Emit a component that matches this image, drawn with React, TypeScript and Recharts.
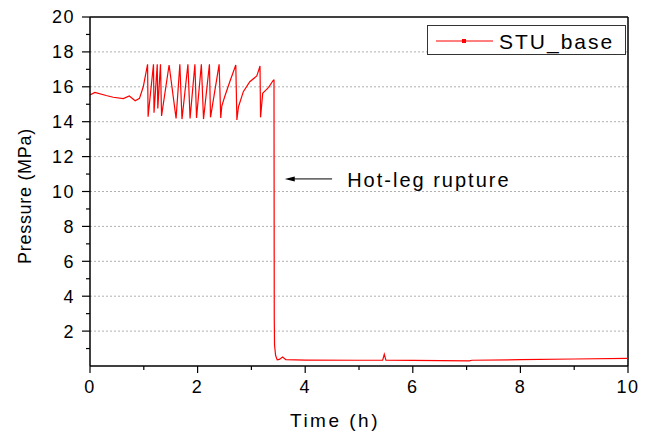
import React from 'react';
import { LineChart, Line, XAxis, YAxis, CartesianGrid, ReferenceLine, ReferenceDot } from 'recharts';

const seriesName = 'STU_base';
const timeH = [
  0, 0.09, 0.3, 0.43, 0.62, 0.73, 0.84, 0.92, 0.99, 1.07, 1.08, 1.18, 1.19, 1.25, 1.26, 1.31, 1.33,
  1.47, 1.6, 1.67, 1.71, 1.82, 1.86, 1.95, 1.98, 2.07, 2.11, 2.22, 2.24, 2.4, 2.43, 2.45, 2.5, 2.6,
  2.71, 2.73, 2.76, 2.85, 2.97, 3.1, 3.13, 3.16, 3.17, 3.21, 3.24, 3.32, 3.41, 3.42, 3.425, 3.43,
  3.45, 3.48, 3.52, 3.58, 3.64, 4.0, 5.0, 5.44, 5.47, 5.5, 6.0, 7.05, 7.1, 8.0, 9.0, 10.0,
];
const pressureMPa = [
  15.53, 15.68, 15.5, 15.4, 15.32, 15.47, 15.2, 15.34, 16.0, 17.29, 14.29, 17.29, 14.52, 17.29, 14.76, 17.29, 14.33,
  17.25, 14.19, 17.29, 14.15, 17.29, 14.19, 17.29, 14.22, 17.29, 14.15, 17.29, 14.25, 17.29, 14.22, 14.9, 15.4, 16.3,
  17.25, 14.1, 14.86, 15.72, 16.29, 16.62, 16.9, 17.19, 14.25, 15.63, 15.72, 15.97, 16.39, 16.39, 2.73, 1.2,
  0.6, 0.35, 0.38, 0.52, 0.36, 0.34, 0.33, 0.33, 0.67, 0.34, 0.32, 0.29, 0.33, 0.36, 0.4, 0.44,
];
const xTicks = [0, 1, 2, 3, 4, 5, 6, 7, 8, 9, 10];
const yTicks = [1, 2, 3, 4, 5, 6, 7, 8, 9, 10, 11, 12, 13, 14, 15, 16, 17, 18, 19, 20];
const gridValues = [2, 4, 6, 8, 10, 12, 14, 16, 18];
const annotationText = 'Hot-leg rupture';
const arrowFrom = { x: 4.5, y: 10.72 };
const arrowTo = { x: 3.62, y: 10.72 };
const annotationPos = { x: 4.78, y: 10.26 };

const data = timeH.map((t, i) => ({ t, p: pressureMPa[i] }));

const FONT = 'Arial, "Liberation Sans", sans-serif';

const YTick = (props: any) => {
  const { x, y, payload } = props;
  const v = payload.value;
  const major = v % 2 === 0;
  return (
    <g>
      <line x1={x} x2={x - (major ? 8 : 4)} y1={y} y2={y} stroke="#000" strokeWidth={1.2} />
      {major && (
        <text x={x - 15} y={y} dy="0.36em" textAnchor="end" fontSize={18} letterSpacing={1.5} fontFamily={FONT} fill="#000">
          {v}
        </text>
      )}
    </g>
  );
};

const XTick = (props: any) => {
  const { x, y, payload } = props;
  const v = payload.value;
  const major = v % 2 === 0;
  return (
    <g>
      <line x1={x} x2={x} y1={y} y2={y + (major ? 7 : 4)} stroke="#000" strokeWidth={1.2} />
      {major && (
        <text x={x} y={y + 14} dy="0.71em" textAnchor="middle" fontSize={18} letterSpacing={1.5} fontFamily={FONT} fill="#000">
          {v}
        </text>
      )}
    </g>
  );
};

const ArrowShape = (props: any) => {
  const { x1, y1, x2, y2 } = props;
  return (
    <g>
      <line x1={x1} y1={y1} x2={x2 + 8} y2={y2} stroke="#000" strokeWidth={1} />
      <polygon points={`${x2},${y2} ${x2 + 10},${y2 - 2.5} ${x2 + 10},${y2 + 2.5}`} fill="#000" />
    </g>
  );
};

const AnnotationShape = (props: any) => {
  const { cx, cy } = props;
  return (
    <text x={cx} y={cy} fontSize={20} letterSpacing={2} fontFamily={FONT} fill="#000">
      {annotationText}
    </text>
  );
};

export default function App() {
  return (
    <div style={{ position: 'absolute', left: 0, top: 0, width: 654, height: 434, background: '#fff' }}>
      <LineChart width={654} height={434} data={data} margin={{ top: 17, right: 26, left: 0, bottom: 0 }}>
        <CartesianGrid horizontal vertical={false} horizontalValues={gridValues} stroke="#b0b0b0" strokeDasharray="2 2" />
        <XAxis
          dataKey="t"
          type="number"
          domain={[0, 10]}
          ticks={xTicks}
          interval={0}
          tickSize={0}
          tickMargin={0}
          tickLine={false}
          tick={<XTick />}
          height={68}
          axisLine={{ stroke: '#000', strokeWidth: 1.5 }}
          allowDataOverflow
        />
        <YAxis
          type="number"
          domain={[0, 20]}
          ticks={yTicks}
          interval={0}
          tickSize={0}
          tickMargin={0}
          tickLine={false}
          tick={<YTick />}
          width={90}
          axisLine={{ stroke: '#000', strokeWidth: 1.5 }}
          allowDataOverflow
        />
        <ReferenceLine y={20} stroke="#000" strokeWidth={1.5} />
        <ReferenceLine x={10} stroke="#000" strokeWidth={1.5} />
        <Line
          type="linear"
          dataKey="p"
          name={seriesName}
          stroke="#ff0000"
          strokeWidth={1.2}
          dot={false}
          isAnimationActive={false}
        />
        <ReferenceLine segment={[arrowFrom, arrowTo]} shape={<ArrowShape />} stroke="#000" />
        <ReferenceDot x={annotationPos.x} y={annotationPos.y} r={0} shape={<AnnotationShape />} />
        <text x={25} y={196} transform="rotate(-90 25 196)" textAnchor="middle" dominantBaseline="central" fontSize={18} letterSpacing={0.7} fontFamily={FONT} fill="#000">
          Pressure (MPa)
        </text>
        <text x={335} y={420} textAnchor="middle" dominantBaseline="central" fontSize={19} letterSpacing={2.5} fontFamily={FONT} fill="#000">
          Time (h)
        </text>
      </LineChart>
      <svg style={{ position: 'absolute', left: 427, top: 25 }} width={199} height={30}>
        <rect x={0.5} y={0.5} width={198} height={29} fill="#fff" stroke="#333" strokeWidth={1} />
        <line x1={9} x2={66} y1={16} y2={16} stroke="#ff0000" strokeWidth={1.2} />
        <rect x={35} y={14} width={4} height={4} fill="#ff0000" />
        <text x={72} y={24} fontSize={21} letterSpacing={2} fontFamily={FONT} fill="#000">
          {seriesName}
        </text>
      </svg>
    </div>
  );
}
